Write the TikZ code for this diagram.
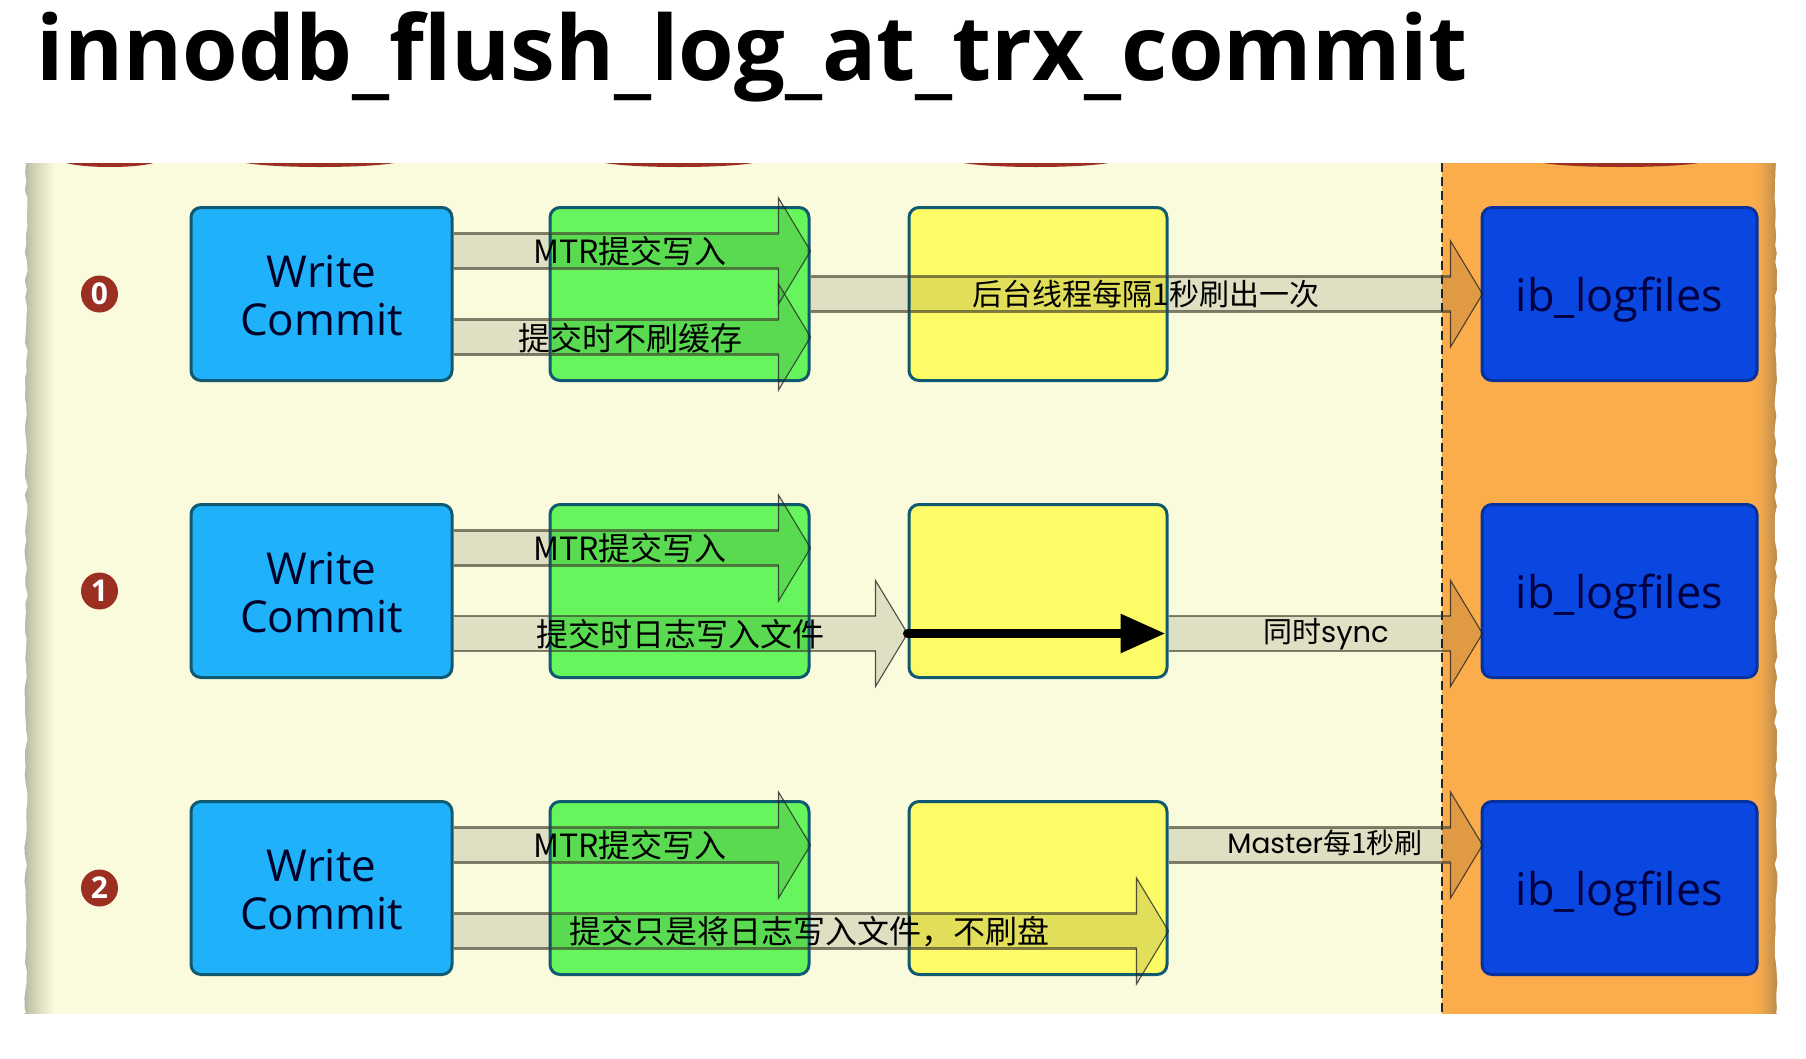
\documentclass[tikz,border=0pt]{standalone}
\usepackage{fontspec}
\setmainfont{Open Sans}
\newfontfamily\cjkfont{Noto Sans CJK SC}
\newfontfamily\geofont{Poppins}
\usetikzlibrary{calc,arrows.meta,decorations.pathmorphing}
\definecolor{cream}{HTML}{FAFBDC}
\definecolor{paperedge}{HTML}{B4B59C}
\definecolor{orangebg}{HTML}{FBAD4C}
\definecolor{orangeedge}{HTML}{C08E4C}
\definecolor{boxline}{HTML}{0F5A70}
\definecolor{wred}{HTML}{9A2F22}
\definecolor{HTMLblue}{HTML}{1FB2FB}
\definecolor{HTMLgreen}{HTML}{66F55C}
\definecolor{HTMLyellow}{HTML}{FDFB66}
\definecolor{HTMLdeep}{HTML}{0A46E0}
\tikzset{
  x=1pt,y=1pt,
  box/.style={draw=boxline,line width=3pt,rounded corners=10pt,minimum width=#1,minimum height=173pt,inner sep=0pt,align=center,text=black!85!blue},
  box/.default=259pt,
  writebox/.style={box=261pt,fill=HTMLblue,font=\fontsize{44}{48}\selectfont},
  mtrbox/.style={box=259pt,fill=HTMLgreen},
  logbox/.style={box=258pt,fill=HTMLyellow},
  filebox/.style={box=275pt,fill=HTMLdeep,draw=HTMLdeep!70!black,text=black!75!blue,font=\fontsize{45}{48}\selectfont},
  badge/.style={circle,fill=wred,text=white,minimum size=37pt,inner sep=0pt,font=\bfseries\fontsize{30}{32}\selectfont},
  flowlabel/.style={text=black,inner sep=0pt,font=\cjkfont\fontsize{32}{36}\selectfont},
  smalllabel/.style={flowlabel,font=\cjkfont\fontsize{28}{32}\selectfont},
  arrowfill/.style={fill=black,fill opacity=.11},
  arrowedge/.style={draw=black!70!olive,draw opacity=.65,line width=2.2pt},
  arrowhead/.style={draw=black!85,draw opacity=.8,line width=1.1pt},
  tornedge/.style={white,line width=8pt,decorate,decoration={random steps,segment length=9pt,amplitude=1.6pt}},
}
% block arrow: from anchor, to anchor, y of the axis in pixels from the top
\newcommand{\flowarrow}[3]{%
  \fill[arrowfill] let \p1=(#1),\p2=(#2) in
    (\x1,{-(#3-17.5)*1pt}) -- ({\x2-32pt},{-(#3-17.5)*1pt}) -- ({\x2-32pt},{-(#3-53)*1pt})
    -- (\x2,{-#3*1pt}) -- ({\x2-32pt},{-(#3+53)*1pt}) -- ({\x2-32pt},{-(#3+17.5)*1pt})
    -- (\x1,{-(#3+17.5)*1pt}) -- cycle;
  \draw[arrowedge] let \p1=(#1),\p2=(#2) in
    (\x1,{-(#3-17.5)*1pt}) -- ({\x2-32pt},{-(#3-17.5)*1pt})
    (\x1,{-(#3+17.5)*1pt}) -- ({\x2-32pt},{-(#3+17.5)*1pt});
  \draw[arrowhead,line join=miter] let \p2=(#2) in
    ({\x2-32pt},{-(#3-17.5)*1pt}) -- ({\x2-32pt},{-(#3-53)*1pt})
    -- (\x2,{-#3*1pt}) -- ({\x2-32pt},{-(#3+53)*1pt}) -- ({\x2-32pt},{-(#3+17.5)*1pt});
}
\newcommand{\lowbar}{\raisebox{-6pt}{\_}}
\begin{document}
\begin{tikzpicture}
\pgfmathsetseed{42}
\useasboundingbox (0,0) rectangle (1806,-1058);
\fill[white] (0,0) rectangle (1806,-1058);
% title
\node[anchor=base west,inner sep=0pt,font=\bfseries\fontsize{90}{96}\selectfont] (title) at (36.5,-80) {innodb\lowbar{}flush\lowbar{}log\lowbar{}at\lowbar{}trx\lowbar{}commit};
% torn paper panel
\fill[cream] (24,-163) rectangle (1442,-1014);
\fill[orangebg] (1442,-163) rectangle (1778,-1014);
\foreach \i in {0,...,15}{
  \pgfmathtruncatemacro{\mixv}{100-(\i/15)^0.8*100}
  \fill[paperedge!\mixv!cream] ({24+\i*2},-163) rectangle ({26.5+\i*2},-1014);
}
\foreach \i in {0,...,13}{
  \pgfmathtruncatemacro{\mixv}{(\i/13)^2*100}
  \fill[orangeedge!\mixv!orangebg] ({1748+\i*2},-163) rectangle ({1750.5+\i*2},-1014);
}
\fill[orangeedge] (1774,-163) rectangle (1778,-1014);
\draw[tornedge] (22,-163) -- (22,-1014);
\draw[tornedge] (1780,-163) -- (1780,-1014);
% red rims at the top edge
\begin{scope}
\clip (0,-163) rectangle (1806,-200);
\fill[wred] (110,-160) ellipse [x radius=48,y radius=7];
\fill[wred] (320,-160) ellipse [x radius=82,y radius=7];
\fill[wred] (679,-160) ellipse [x radius=82,y radius=7];
\fill[wred] (1036,-160) ellipse [x radius=80,y radius=7];
\fill[wred] (1621,-160) ellipse [x radius=86,y radius=7];
\end{scope}
\draw[black!85,dash pattern=on 9pt off 5pt,line width=1.8pt] (1442,-163) -- (1442,-1014);
% badges
\node[badge] (n0) at (99.5,-294) {0};
\node[badge] (n1) at (99.5,-591) {1};
\node[badge] (n2) at (99.5,-888) {2};
% rows of boxes
\foreach \r/\yy in {A/294,B/591,C/888}{
  \node[writebox] (write\r) at (321.5,-\yy) {\rule{0pt}{36pt}Write\\Commit};
  \node[mtrbox] (mtr\r) at (679.5,-\yy) {};
  \node[logbox] (log\r) at (1038,-\yy) {};
  \node[filebox] (file\r) at (1619.5,-\yy) {\rule{0pt}{46pt}ib\_logfiles};
}
% block arrows, row 0
\flowarrow{writeA.east}{mtrA.east}{251}
\flowarrow{writeA.east}{mtrA.east}{337}
\flowarrow{mtrA.east}{$(fileA.west)+(2,0)$}{294}
% row 1
\flowarrow{writeB.east}{mtrB.east}{548}
\flowarrow{writeB.east}{logB.west}{633.5}
\flowarrow{logB.east}{$(fileB.west)+(2,0)$}{633.5}
% row 2
\flowarrow{writeC.east}{mtrC.east}{845}
\flowarrow{writeC.east}{logC.east}{931}
\flowarrow{logC.east}{$(fileC.west)+(2,0)$}{845}
% heavy sync arrow
\coordinate (syncs) at (logB.west |- 0,-633.5);
\coordinate (synce) at ($(logB.east |- 0,-633.5)+(-3,0)$);
\draw[line width=9pt,black,line cap=round,-{Triangle[length=45pt,width=37pt]}] (syncs) -- (synce);
% labels
\node[flowlabel] (l1) at (630,-251) {MTR提交写入};
\node[flowlabel] (l2) at (630,-338) {提交时不刷缓存};
\node[flowlabel,font=\cjkfont\fontsize{30}{36}\selectfont] (l3) at (1146,-294) {后台线程每隔1秒刷出一次};
\node[flowlabel] (l4) at (630,-548) {MTR提交写入};
\node[flowlabel] (l5) at (680,-634) {提交时日志写入文件};
\node[smalllabel,font=\cjkfont\fontsize{29}{32}\selectfont] (l6) at (1326,-634) {同时{\geofont sync}};
\node[flowlabel] (l7) at (630,-845) {MTR提交写入};
\node[flowlabel] (l8) at (809,-932) {提交只是将日志写入文件，不刷盘};
\node[smalllabel] (l9) at (1325,-843) {{\geofont Master}每1秒刷};
\end{tikzpicture}
\end{document}
